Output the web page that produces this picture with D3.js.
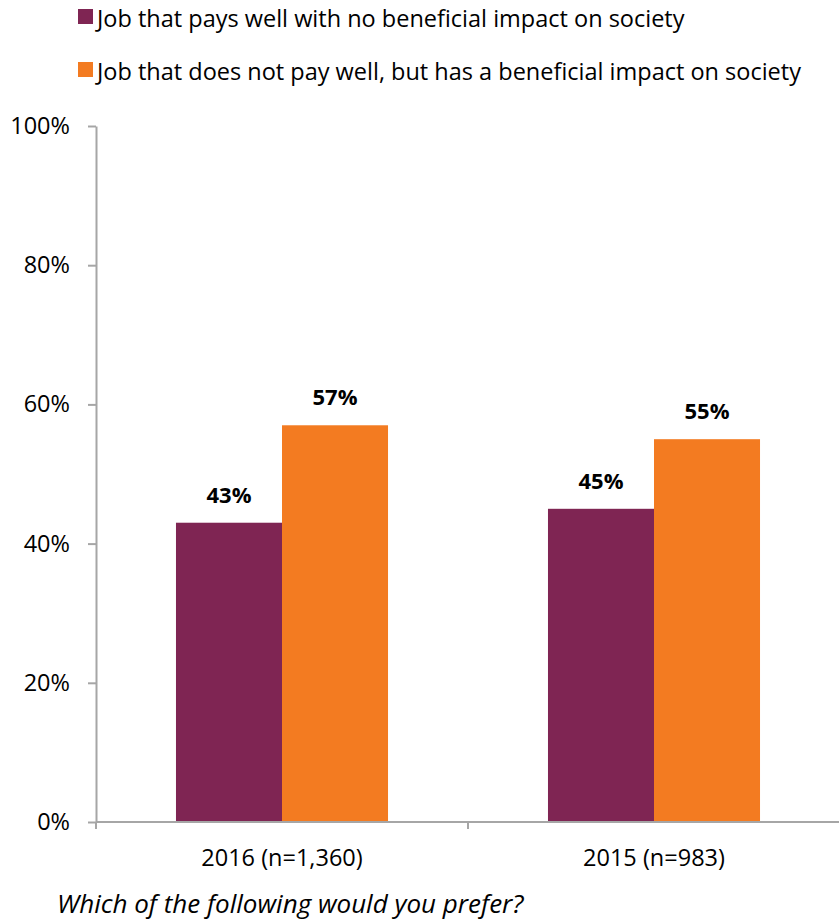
<!DOCTYPE html>
<html>
<head>
<meta charset="utf-8">
<script src="https://cdn.jsdelivr.net/npm/d3@7"></script>
<style>
  html, body { margin: 0; padding: 0; background: #fff; }
  svg { display: block; font-family: "Open Sans", sans-serif; }
</style>
</head>
<body>
<svg id="chart" width="839" height="922"></svg>
<script>
// Survey results: job preference by year
const categories = ["2016 (n=1,360)", "2015 (n=983)"];
const seriesNames = [
  "Job that pays well with no beneficial impact on society",
  "Job that does not pay well, but has a beneficial impact on society"
];
const paysWell = [0.43, 0.45];
const beneficial = [0.57, 0.55];
const yTicks = [0, 0.2, 0.4, 0.6, 0.8, 1.0];
const question = "Which of the following would you prefer?";

const colors = ["#7F2553", "#F37B21"];
const axisColor = "#A6A6A6";

const seriesValues = [paysWell, beneficial];
const rows = categories.map((c, i) => ({
  category: c,
  values: seriesNames.map((s, j) => ({ series: s, idx: j, value: seriesValues[j][i] }))
}));

const svg = d3.select("#chart");

const plot = { left: 96, right: 840, top: 126, bottom: 822 };

const y = d3.scaleLinear().domain([0, 1]).range([plot.bottom, plot.top]);
const x0 = d3.scaleBand().domain(categories).range([plot.left, plot.right]);
const groupInset = 0.215;
const x1 = d3.scaleBand()
  .domain(seriesNames)
  .range([x0.bandwidth() * groupInset, x0.bandwidth() * (1 - groupInset)]);

// Y axis
const yAxis = svg.append("g")
  .attr("transform", `translate(${plot.left},0)`)
  .call(d3.axisLeft(y).tickValues(yTicks).tickFormat(d3.format(".0%"))
    .tickSize(8).tickSizeOuter(0).tickPadding(18));
yAxis.select(".domain").attr("stroke", axisColor).attr("stroke-width", 2);
yAxis.selectAll(".tick line").attr("stroke", axisColor).attr("stroke-width", 2);
yAxis.selectAll(".tick text")
  .attr("fill", "#000")
  .style("font-size", "23.5px")
  .style("font-family", "'Open Sans', sans-serif");

// Bars
const groups = svg.append("g").selectAll("g")
  .data(rows)
  .join("g")
  .attr("transform", d => `translate(${x0(d.category)},0)`);

groups.selectAll("rect")
  .data(d => d.values)
  .join("rect")
  .attr("x", d => x1(d.series))
  .attr("width", x1.bandwidth())
  .attr("y", d => y(d.value))
  .attr("height", d => y(0) - y(d.value))
  .attr("fill", d => colors[d.idx]);

groups.selectAll("text.value")
  .data(d => d.values)
  .join("text")
  .attr("class", "value")
  .attr("x", d => x1(d.series) + x1.bandwidth() / 2)
  .attr("y", d => y(d.value) - 20)
  .attr("text-anchor", "middle")
  .style("font-size", "22px")
  .style("font-weight", "bold")
  .text(d => d3.format(".0%")(d.value));

// X axis with boundary ticks between categories
const xAxisG = svg.append("g").attr("transform", `translate(0,${plot.bottom})`);
xAxisG.append("line")
  .attr("x1", plot.left).attr("x2", plot.right)
  .attr("stroke", axisColor).attr("stroke-width", 2);
const boundaries = categories.map(c => x0(c)).concat([x0.range()[1]]);
xAxisG.selectAll("line.tick")
  .data(boundaries)
  .join("line")
  .attr("class", "tick")
  .attr("x1", d => d).attr("x2", d => d)
  .attr("y1", 0).attr("y2", 7)
  .attr("stroke", axisColor).attr("stroke-width", 2);
xAxisG.selectAll("text")
  .data(categories)
  .join("text")
  .attr("x", d => x0(d) + x0.bandwidth() / 2)
  .attr("y", 44)
  .attr("text-anchor", "middle")
  .style("font-size", "23.5px")
  .text(d => d);

// Legend
const legend = svg.append("g").selectAll("g")
  .data(seriesNames)
  .join("g")
  .attr("transform", (d, i) => `translate(78,${9 + i * 53})`);
legend.append("rect")
  .attr("width", 15).attr("height", 15)
  .attr("fill", (d, i) => colors[i]);
legend.append("text")
  .attr("x", 19).attr("y", 18)
  .style("font-size", "23.5px")
  .text(d => d);

// Question caption
svg.append("text")
  .attr("x", 57).attr("y", 913)
  .style("font-size", "26px")
  .style("font-style", "italic")
  .text(question);
</script>
</body>
</html>
